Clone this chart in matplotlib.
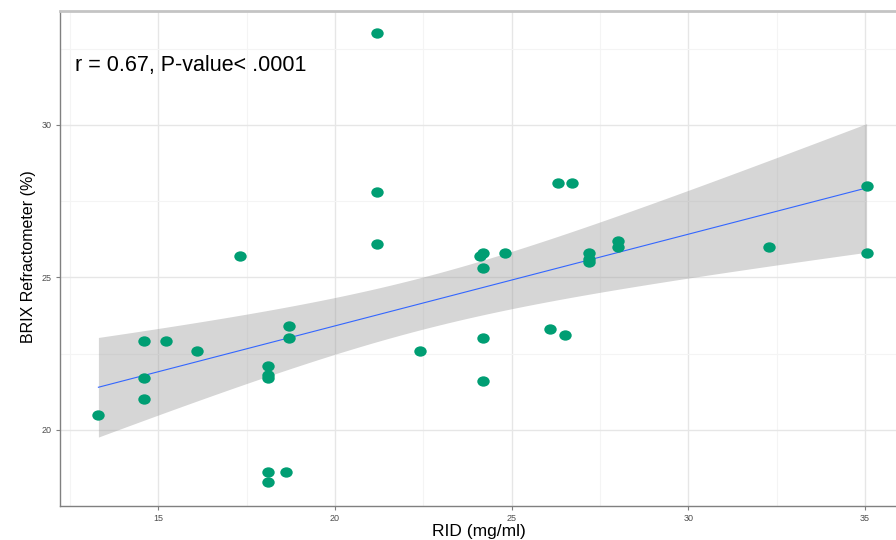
import numpy as np
import matplotlib.pyplot as plt
from matplotlib.path import Path

# RID (mg/ml) vs BRIX refractometer (%)
rid = [13.3, 14.6, 14.6, 14.6, 15.2, 16.1, 17.3, 18.1, 18.1, 18.1, 18.1, 18.1, 18.6,
       18.7, 18.7, 21.2, 21.2, 21.2, 22.4, 24.1, 24.2, 24.2, 24.2, 24.2, 24.8, 26.1,
       26.5, 26.3, 26.7, 27.2, 27.2, 27.2, 28.0, 28.0, 32.3, 35.05, 35.05]
brix = [20.5, 22.9, 21.7, 21.0, 22.9, 22.6, 25.7, 22.1, 21.8, 21.7, 18.6, 18.3, 18.6,
        23.4, 23.0, 33.0, 27.8, 26.1, 22.6, 25.7, 25.8, 25.3, 23.0, 21.6, 25.8, 23.3,
        23.1, 28.1, 28.1, 25.8, 25.6, 25.5, 26.2, 26.0, 26.0, 28.0, 25.8]
annot = "r = 0.67, P-value< .0001"
x_ticks = [15, 20, 25, 30, 35]
y_ticks = [20, 25, 30]

x = np.array(rid)
y = np.array(brix)
n = len(x)

# linear fit + 95% confidence band (like geom_smooth(method="lm"))
b1, b0 = np.polyfit(x, y, 1)
xs = np.linspace(x.min(), x.max(), 80)
ys = b0 + b1 * xs
resid = y - (b0 + b1 * x)
s = np.sqrt(np.sum(resid ** 2) / (n - 2))
sxx = np.sum((x - x.mean()) ** 2)
se = s * np.sqrt(1 / n + (xs - x.mean()) ** 2 / sxx)
t = 2.03
lo, hi = ys - t * se, ys + t * se

plt.rcParams['font.family'] = ['Liberation Sans', 'DejaVu Sans']
fig = plt.figure(figsize=(8.96, 5.4), dpi=100)
ax = fig.add_axes([60 / 896, 34 / 540, 845 / 896, 495 / 540])

ax.fill_between(xs, lo, hi, color='#999999', alpha=0.4, lw=0, zorder=2)
ax.plot(xs, ys, color='#3366FF', lw=0.8, zorder=3)

circ = Path.unit_circle()
oval = Path(circ.vertices * [1.2, 1.0], circ.codes)
ax.scatter(x, y, s=80, marker=oval, color='#009E73', lw=0, zorder=4)

xr = x.max() - x.min()
yr = y.max() - y.min()
ax.set_xlim(x.min() - 0.05 * xr, x.max() + 0.05 * xr)
ax.set_ylim(y.min() - 0.05 * yr, y.max() + 0.05 * yr)

ax.set_xticks(x_ticks)
ax.set_yticks(y_ticks)
ax.set_xticks([12.5, 17.5, 22.5, 27.5, 32.5], minor=True)
ax.set_yticks([17.5, 22.5, 27.5, 32.5], minor=True)
ax.grid(which='major', color='#E6E6E6', lw=1.0, zorder=0)
ax.grid(which='minor', color='#F4F4F4', lw=0.8, zorder=0)
ax.set_axisbelow(True)
ax.tick_params(which='major', labelsize=6.5, labelcolor='#4D4D4D', color='#7F7F7F',
               length=3, width=0.8, pad=3)
ax.tick_params(which='minor', length=0)

for side in ['left', 'bottom']:
    ax.spines[side].set_color('#808080')
    ax.spines[side].set_linewidth(1.0)
ax.spines['top'].set_color('#C4C4C4')
ax.spines['top'].set_linewidth(2.0)
ax.spines['right'].set_visible(False)

ax.set_xlabel('RID (mg/ml)', fontsize=12.5)
ax.set_ylabel('BRIX Refractometer (%)', fontsize=11.5)
ax.xaxis.set_label_coords((479 - 60) / 845, -0.036)
ax.yaxis.set_label_coords((36 - 60) / 845, (506 - 257) / 495)

ax.text(75 / 896, 1 - 66 / 540, annot, transform=fig.transFigure, fontsize=15.5,
        ha='left', va='center', color='black')

fig.savefig('out.png', dpi=100)
